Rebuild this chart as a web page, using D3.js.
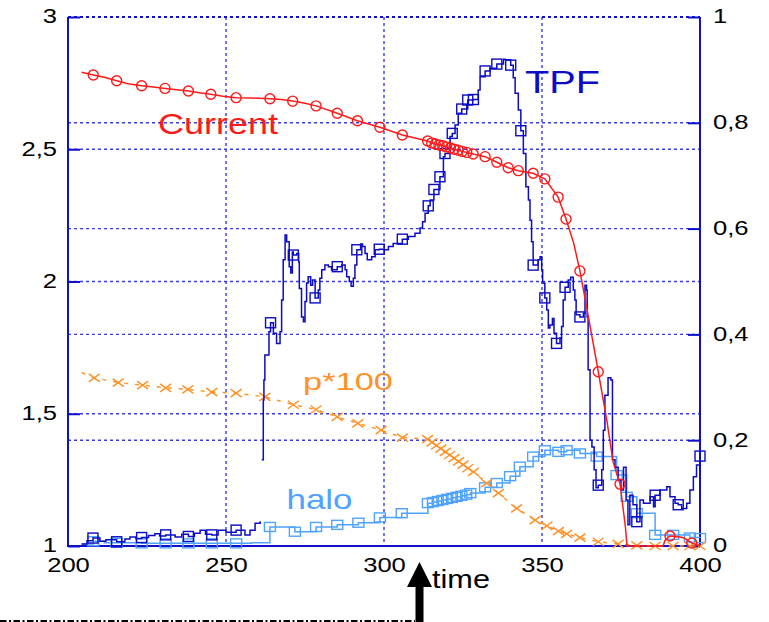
<!DOCTYPE html>
<html>
<head>
<meta charset="utf-8">
<script src="https://cdn.jsdelivr.net/npm/d3@7/dist/d3.min.js"></script>
<style>
  html, body { margin: 0; padding: 0; background: #ffffff; }
  svg { display: block; }
  text { font-family: "Liberation Sans", Arial, Helvetica, sans-serif; }
</style>
</head>
<body>
<svg id="chart" width="769" height="622"></svg>
<script>
// ---- axis ticks ----
const xTicks = [200, 250, 300, 350, 400];
const xTickLabels = ["200", "250", "300", "350", "400"];
const leftTicks = [1, 1.5, 2, 2.5, 3];
const leftTickLabels = ["1", "1,5", "2", "2,5", "3"];
const rightTicks = [0, 0.2, 0.4, 0.6, 0.8, 1];
const rightTickLabels = ["0", "0,2", "0,4", "0,6", "0,8", "1"];
const xGrid = [250, 300, 350];
const leftGrid = [1.5, 2, 2.5];
const rightGrid = [0.2, 0.4, 0.6, 0.8];

// ---- beam current (left scale) ----
const currentTime = [204.3, 208.0, 211.5, 215.4, 219.0, 223.3, 227.0, 230.7, 234.5, 238.1, 241.5, 245.2, 249.0, 253.2,
  258.0, 263.9, 267.5, 271.1, 275.0, 278.5, 285.2, 291.6, 298.7, 305.8, 313.8, 315.1, 316.2, 317.4, 318.6, 319.8,
  321.0, 322.2, 323.5, 324.8, 326.2, 328.2, 332.0, 335.7, 339.3, 342.5, 347.2, 350.9, 355.1, 357.6, 360.0, 362.0,
  364.0, 366.0, 367.8, 370.5, 372.5, 374.7, 376.4, 376.9, 388.3, 389.0, 390.5, 393.7, 395.0, 397.4, 400.0];
const currentValue = [2.791, 2.781, 2.772, 2.759, 2.748, 2.740, 2.735, 2.730, 2.725, 2.720, 2.714, 2.708, 2.700, 2.695,
  2.694, 2.691, 2.688, 2.682, 2.674, 2.664, 2.636, 2.608, 2.583, 2.554, 2.531, 2.524, 2.520, 2.516, 2.513, 2.509,
  2.505, 2.500, 2.496, 2.492, 2.488, 2.482, 2.472, 2.451, 2.430, 2.419, 2.409, 2.388, 2.319, 2.236, 2.146, 2.040,
  1.911, 1.779, 1.659, 1.476, 1.318, 1.234, 1.072, 1.000, 1.000, 1.023, 1.038, 1.034, 1.030, 1.011, 1.000];
const currentMarks = [208.0, 215.4, 223.3, 230.7, 238.1, 245.2, 253.2, 263.9, 271.1, 278.5, 285.2, 291.6, 298.7,
  305.8, 313.8, 315.1, 316.2, 317.4, 318.6, 319.8, 321.0, 322.2, 323.5, 324.8, 326.2, 328.2, 332.0, 335.7, 339.3,
  342.5, 347.2, 350.9, 355.1, 357.6, 362.0, 367.8, 374.7, 390.5, 397.4];

// ---- p*100 (right scale) ----
const pTime = [204.3, 208.3, 215.9, 223.6, 230.9, 237.9, 245.5, 253.2, 262.3, 271.3, 278.5, 285.2, 291.7, 299.1,
  305.8, 313.8, 315.2, 316.6, 318.0, 319.4, 320.8, 322.2, 323.6, 325.0, 326.5, 328.3, 332.5, 336.2, 342.0, 347.8,
  351.5, 355.2, 357.8, 362.0, 367.8, 374.1, 380.0, 385.8, 391.5, 396.8, 400.0];
const pValue = [0.328, 0.318, 0.309, 0.304, 0.299, 0.296, 0.291, 0.289, 0.282, 0.267, 0.258, 0.244, 0.232, 0.219,
  0.205, 0.202, 0.196, 0.190, 0.184, 0.178, 0.172, 0.166, 0.160, 0.154, 0.147, 0.140, 0.119, 0.100, 0.071, 0.049,
  0.038, 0.028, 0.023, 0.016, 0.008, 0.004, 0.001, 0.000, 0.000, 0.000, 0.000];

// ---- halo (right scale) ----
const haloTime = [204.3, 208.0, 211.5, 215.4, 223.3, 230.9, 238.1, 245.5, 253.2, 258.0, 263.9, 271.8, 278.5, 285.2,
  291.9, 298.7, 305.6, 313.9, 315.5, 317.0, 318.5, 320.0, 321.5, 323.0, 324.5, 326.0, 327.3, 332.0, 335.7, 339.9,
  343.0, 347.2, 350.9, 355.2, 357.8, 362.0, 367.3, 373.6, 376.8, 380.0, 385.8, 391.5, 396.8, 400.0];
const haloValue = [0.004, 0.009, 0.006, 0.006, 0.005, 0.005, 0.005, 0.005, 0.005, 0.006, 0.036, 0.027, 0.036, 0.040,
  0.044, 0.054, 0.062, 0.081, 0.083, 0.085, 0.087, 0.089, 0.091, 0.093, 0.095, 0.097, 0.100, 0.111, 0.119, 0.132,
  0.150, 0.169, 0.181, 0.178, 0.181, 0.175, 0.169, 0.134, 0.093, 0.062, 0.021, 0.021, 0.016, 0.015];
const haloMarks = [208.0, 215.4, 223.3, 230.9, 238.1, 245.5, 253.2, 263.9, 271.8, 278.5, 285.2, 291.9, 298.7, 305.6,
  313.9, 315.5, 317.0, 318.5, 320.0, 321.5, 323.0, 324.5, 326.0, 327.3, 332.0, 335.7, 339.9, 343.0, 347.2, 350.9,
  355.2, 357.8, 362.0, 367.3, 373.6, 376.8, 380.0, 385.8, 391.5, 396.8, 400.0];

// ---- TPF (right scale); null marks the gap in the record ----
const tpfTime = [204.3, 206.0, 207.9, 210.1, 212.0, 215.4, 218.0, 219.6, 221.5, 223.3, 225.5, 227.5, 229.0, 230.9,
  233.9, 236.0, 238.1, 240.0, 241.8, 243.5, 245.5, 247.5, 250.0, 253.2, 256.0, 257.6, 259.2, 260.8, 261.0,
  261.3, 261.8, 262.0, 262.3, 263.6, 264.1, 265.0, 266.0, 267.1, 267.6, 268.1, 268.7, 269.2, 270.0, 270.5, 271.0,
  271.3, 272.4, 273.0, 273.2, 273.9, 274.5, 275.0, 275.5, 276.0, 276.8, 277.4, 278.2, 279.2, 279.7, 280.3, 281.3,
  282.4, 283.4, 285.2, 286.6, 287.7, 288.2, 289.0, 289.6, 290.3, 290.8, 291.4, 292.6, 293.2, 294.0, 294.7, 295.6,
  296.1, 297.2, 298.5, 299.8, 301.4, 302.9, 305.8, 307.7, 309.8, 311.4, 312.2, 313.0, 314.0, 314.6, 315.8, 317.7,
  318.8, 319.3, 320.9, 321.6, 322.5, 323.5, 324.6, 326.5, 328.3, 329.8, 330.4, 332.0, 333.5, 335.7, 337.8, 338.3,
  340.1, 340.9, 341.5, 342.5, 343.3, 344.1, 344.9, 345.7, 346.2, 346.7, 347.2, 348.8, 349.4, 349.9, 350.2, 350.9,
  351.5, 352.0, 352.5, 353.3, 353.8, 354.6, 355.7, 356.2, 356.7, 357.3, 358.3, 359.1, 359.9, 360.4, 360.8, 362.0,
  363.1, 363.6, 364.1, 364.3, 364.6, 365.2, 365.8, 366.5, 367.1, 367.8, 368.9, 369.4, 369.9, 370.9, 371.8, 372.3,
  373.1, 374.1, 375.0, 375.8, 376.6, 377.2, 377.8, 378.8, 380.0, 381.0, 382.1, 384.2, 385.3, 385.8, 387.3, 389.5,
  390.5, 392.1, 393.1, 394.2, 395.8, 396.8, 397.9, 398.9, 400.0];
const tpfValue = [0.004, 0.010, 0.015, 0.009, 0.012, 0.008, 0.013, 0.017, 0.014, 0.016, 0.020, 0.023, 0.019, 0.021,
  0.017, 0.022, 0.018, 0.024, 0.030, 0.022, 0.021, 0.030, 0.026, 0.030, 0.021, 0.030, 0.043, 0.047, null,
  0.163, 0.276, 0.314, 0.361, 0.405, 0.422, 0.402, 0.383, 0.405, 0.465, 0.541, 0.588, 0.575, 0.528, 0.516, 0.556,
  0.550, 0.553, 0.537, 0.487, 0.433, 0.424, 0.462, 0.497, 0.509, 0.493, 0.503, 0.469, 0.484, 0.506, 0.522, 0.531,
  0.528, 0.522, 0.528, 0.531, 0.522, 0.509, 0.500, 0.491, 0.506, 0.531, 0.560, 0.571, 0.566, 0.553, 0.541, 0.541,
  0.547, 0.560, 0.561, 0.560, 0.566, 0.572, 0.580, 0.585, 0.591, 0.601, 0.613, 0.629, 0.643, 0.654, 0.674, 0.698,
  0.736, 0.742, 0.774, 0.780, 0.796, 0.818, 0.826, 0.843, 0.844, 0.862, 0.887, 0.898, 0.903, 0.911, 0.920, 0.919,
  0.909, 0.885, 0.856, 0.824, 0.785, 0.742, 0.679, 0.654, 0.616, 0.575, 0.531, 0.541, 0.547, 0.522, 0.497, 0.469,
  0.446, 0.412, 0.418, 0.430, 0.402, 0.383, 0.393, 0.415, 0.465, 0.489, 0.503, 0.508, 0.484, 0.465, 0.437, 0.433,
  0.440, 0.493, 0.484, 0.433, 0.333, 0.200, 0.187, 0.144, 0.110, 0.115, 0.144, 0.219, 0.285, 0.318, 0.314, 0.163,
  0.149, 0.125, 0.106, 0.149, 0.087, 0.040, 0.096, 0.078, 0.046, 0.087, 0.081, 0.093, 0.074, 0.096, 0.106, 0.112,
  0.093, 0.081, 0.078, 0.071, 0.081, 0.106, 0.131, 0.153, 0.170];
const tpfMarks = [207.9, 215.4, 223.3, 230.9, 238.1, 245.5, 253.2, 264.1, 271.3, 278.2, 285.2, 291.4, 298.5, 305.8,
  314.0, 315.8, 317.7, 319.3, 321.6, 324.6, 326.5, 328.3, 332.0, 335.7, 340.1, 343.3, 347.2, 350.9, 354.6, 357.3,
  362.0, 367.8, 380.0, 385.8, 393.1, 400.0];

// ---- layout ----
const svg = d3.select("#chart");
const W = 769, H = 622;
const x = d3.scaleLinear().domain([200, 400]).range([68, 700]);
const yL = d3.scaleLinear().domain([1, 3]).range([546, 17]);
const yR = d3.scaleLinear().domain([0, 1]).range([546, 17]);

const frameColor = "#1010cc";
const gridColor = "#3a3ae6";
const cRed = "#ff1a1a";
const cOrange = "#ff9126";
const cLight = "#4fa3ff";
const cDark = "#0c0cc4";
const STRETCH = 1.28;

svg.append("rect").attr("width", W).attr("height", H).attr("fill", "#ffffff");

// grid
const grid = svg.append("g").attr("stroke", gridColor).attr("stroke-width", 1.4)
  .attr("stroke-dasharray", "3,3").attr("fill", "none");
xGrid.forEach(v => grid.append("line").attr("x1", x(v)).attr("x2", x(v)).attr("y1", 17).attr("y2", 546));
leftGrid.forEach(v => grid.append("line").attr("x1", 68).attr("x2", 700).attr("y1", yL(v)).attr("y2", yL(v)));
rightGrid.forEach(v => grid.append("line").attr("x1", 68).attr("x2", 700).attr("y1", yR(v)).attr("y2", yR(v)));
// dotted top border
grid.append("line").attr("x1", 68).attr("x2", 700).attr("y1", 17).attr("y2", 17)
  .attr("stroke", frameColor).attr("stroke-width", 2);

// axes
function styleAxis(g, anchor, tx, ty) {
  g.select(".domain").remove();
  g.selectAll(".tick line").attr("stroke", frameColor).attr("stroke-width", 2);
  g.selectAll(".tick text")
    .attr("x", null).attr("y", null).attr("dy", null)
    .attr("fill", "#000").attr("font-size", 20)
    .attr("text-anchor", anchor)
    .attr("dominant-baseline", ty === null ? "central" : "auto")
    .attr("transform", `translate(${tx},${ty === null ? -1 : ty}) scale(${STRETCH},1)`);
}
const gL = svg.append("g").attr("transform", "translate(68,0)")
  .call(d3.axisLeft(yL).tickValues(leftTicks).tickFormat((d, i) => leftTickLabels[i]).tickSize(-12));
styleAxis(gL, "end", -11, null);
const gR = svg.append("g").attr("transform", "translate(700,0)")
  .call(d3.axisRight(yR).tickValues(rightTicks).tickFormat((d, i) => rightTickLabels[i]).tickSize(-12));
styleAxis(gR, "start", 13, null);
const gB = svg.append("g").attr("transform", "translate(0,546)")
  .call(d3.axisBottom(x).tickValues(xTicks).tickFormat((d, i) => xTickLabels[i]).tickSize(0));
styleAxis(gB, "middle", 0, 26);

// solid frame
const frame = svg.append("g").attr("stroke", frameColor).attr("stroke-width", 2).attr("fill", "none");
frame.append("line").attr("x1", 68).attr("x2", 68).attr("y1", 17).attr("y2", 547);
frame.append("line").attr("x1", 700).attr("x2", 700).attr("y1", 17).attr("y2", 547);
frame.append("line").attr("x1", 67).attr("x2", 701).attr("y1", 546).attr("y2", 546);

// series helpers
function rows(ts, vs) { return ts.map((t, i) => ({ t, v: vs[i] })); }
function marked(ts, vs, marks) { return marks.map(m => ({ t: m, v: vs[ts.indexOf(m)] })); }
const plot = svg.append("g");

// halo
const haloRows = rows(haloTime, haloValue);
plot.append("path").datum(haloRows)
  .attr("d", d3.line().x(d => x(d.t)).y(d => yR(d.v)).curve(d3.curveStepAfter))
  .attr("fill", "none").attr("stroke", cLight).attr("stroke-width", 1.5);
plot.append("g").selectAll("rect").data(marked(haloTime, haloValue, haloMarks)).join("rect")
  .attr("x", d => x(d.t) - 5.5).attr("y", d => yR(d.v) - 4.5).attr("width", 11).attr("height", 9)
  .attr("fill", "none").attr("stroke", cLight).attr("stroke-width", 1.4);

// p*100
const pRows = rows(pTime, pValue);
plot.append("path").datum(pRows)
  .attr("d", d3.line().x(d => x(d.t)).y(d => yR(d.v)))
  .attr("fill", "none").attr("stroke", cOrange).attr("stroke-width", 1.4).attr("stroke-dasharray", "4,7");
plot.append("g").selectAll("path").data(pRows.slice(1)).join("path")
  .attr("d", d => { const cx = x(d.t), cy = yR(d.v);
    return `M${cx - 5.5},${cy - 4}L${cx + 5.5},${cy + 4}M${cx - 5.5},${cy + 4}L${cx + 5.5},${cy - 4}`; })
  .attr("fill", "none").attr("stroke", cOrange).attr("stroke-width", 1.5);

// TPF
const tpfRows = rows(tpfTime, tpfValue);
plot.append("path").datum(tpfRows)
  .attr("d", d3.line().defined(d => d.v !== null).x(d => x(d.t)).y(d => yR(d.v)).curve(d3.curveStepAfter))
  .attr("fill", "none").attr("stroke", cDark).attr("stroke-width", 1.5);
plot.append("g").selectAll("rect").data(marked(tpfTime, tpfValue, tpfMarks)).join("rect")
  .attr("x", d => x(d.t) - 5).attr("y", d => yR(d.v) - 5).attr("width", 10).attr("height", 10)
  .attr("fill", "none").attr("stroke", cDark).attr("stroke-width", 1.4);

// beam current
const curRows = rows(currentTime, currentValue);
plot.append("path").datum(curRows)
  .attr("d", d3.line().x(d => x(d.t)).y(d => yL(d.v)))
  .attr("fill", "none").attr("stroke", cRed).attr("stroke-width", 1.5);
plot.append("g").selectAll("circle").data(marked(currentTime, currentValue, currentMarks)).join("circle")
  .attr("cx", d => x(d.t)).attr("cy", d => yL(d.v)).attr("r", 5)
  .attr("fill", "none").attr("stroke", cRed).attr("stroke-width", 1.4);

// series names
const names = [
  { text: "Current", x: 158, y: 134, size: 29, len: 120, color: cRed },
  { text: "TPF", x: 525, y: 93, size: 32, len: 75, color: cDark },
  { text: "p*100", x: 303, y: 390, size: 24, len: 90, color: cOrange },
  { text: "halo", x: 286.5, y: 508.5, size: 28, len: 66, color: cLight },
  { text: "time", x: 432, y: 588, size: 25, len: 58, color: "#000" }
];
svg.append("g").selectAll("text").data(names).join("text")
  .attr("x", d => d.x).attr("y", d => d.y).attr("font-size", d => d.size)
  .attr("textLength", d => d.len).attr("lengthAdjust", "spacingAndGlyphs")
  .attr("fill", d => d.color).text(d => d.text);

// marker arrow and dash-dot baseline
svg.append("path")
  .attr("d", "M419.5,562L432,587L423.5,587L423.5,622L415.5,622L415.5,587L407,587Z")
  .attr("fill", "#000");
svg.append("line").attr("x1", 0).attr("x2", 415).attr("y1", 621).attr("y2", 621)
  .attr("stroke", "#000").attr("stroke-width", 2).attr("stroke-dasharray", "6.5,2.5,2,2.5");
</script>
</body>
</html>
